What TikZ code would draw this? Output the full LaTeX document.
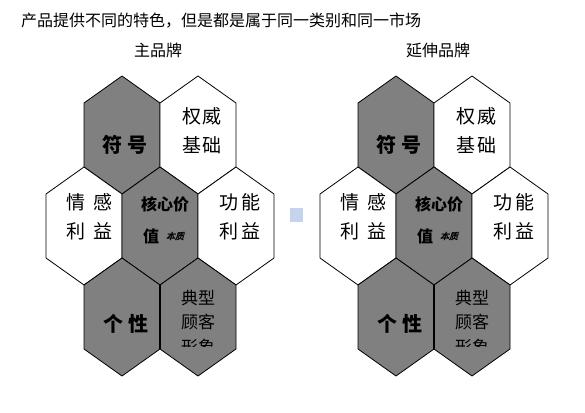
\documentclass[tikz,border=0pt]{standalone}
\usepackage{fontspec}
\setmainfont{Noto Sans CJK SC}
\newfontfamily\cjksl[FakeSlant=0.25,FakeBold=2]{Noto Sans CJK SC}
\usetikzlibrary{calc}
\definecolor{hexgray}{RGB}{128,128,128}
\definecolor{patchblue}{RGB}{196,212,238}
\tikzset{
  hexwhite/.style={draw=black, line width=0.8pt, fill=white, line join=miter},
  hexdark/.style={draw=black, line width=0.8pt, fill=hexgray, line join=miter},
  reglabel/.style={font=\fontsize{19}{29}\selectfont, inner sep=0pt, align=center},
  typlabel/.style={font=\fontsize{17}{24}\selectfont, inner sep=0pt, align=center},
  boldlabel/.style={font=\fontsize{20}{28}\selectfont\bfseries, inner sep=0pt},
  corelabel/.style={font=\fontsize{16}{20}\selectfont\bfseries, inner sep=0pt},
  smalllabel/.style={font=\fontsize{9}{10}\selectfont\cjksl, inner sep=0pt},
  titlelabel/.style={font=\fontsize{16}{18}\selectfont, inner sep=0pt},
  divider/.style={draw=black, line width=1.8pt}
}
\newcommand\hexshape[2]{%
  \draw[#2] ([shift={(0,-59)}]#1) -- ([shift={(38,-32)}]#1) -- ([shift={(38,32)}]#1)
    -- ([shift={(0,59)}]#1) -- ([shift={(-38,32)}]#1) -- ([shift={(-38,-32)}]#1) -- cycle;}
\newcommand\brandhex[2]{%
\begin{scope}[xshift=#2]
  \path (122,135) coordinate (#1sym) (198,135) coordinate (#1aut)
        (84,226) coordinate (#1emo) (160,226) coordinate (#1core) (236,226) coordinate (#1fun)
        (122,317) coordinate (#1per) (198,317) coordinate (#1typ);
  \hexshape{#1sym}{hexdark}
  \hexshape{#1aut}{hexwhite}
  \hexshape{#1emo}{hexwhite}
  \hexshape{#1core}{hexdark}
  \hexshape{#1fun}{hexwhite}
  \hexshape{#1per}{hexdark}
  \hexshape{#1typ}{hexdark}
  \draw[divider] ([shift={(38,-32)}]#1per) -- ([shift={(38,32)}]#1per);
  \node[boldlabel] (#1symt) at ([shift={(3,10)}]#1sym) {符\hspace{5pt}号};
  \node[reglabel] (#1autt) at ([shift={(4,-4)}]#1aut) {权\hspace{2pt}威\\基\hspace{2pt}础};
  \node[reglabel] (#1emot) at ([shift={(5,-9)}]#1emo) {情\hspace{8pt}感\\利\hspace{8pt}益};
  \node[reglabel] (#1funt) at ([shift={(4,-9)}]#1fun) {功\hspace{4pt}能\\利\hspace{4pt}益};
  \node[corelabel] (#1coret) at ([shift={(5,-22)}]#1core) {核心价};
  \node[corelabel] (#1corev) at ([shift={(-9,10)}]#1core) {值};
  \node[smalllabel] (#1cores) at ([shift={(15,10)}]#1core) {本质};
  \node[boldlabel] (#1pert) at ([shift={(4,7)}]#1per) {个\hspace{5pt}性};
  \node[typlabel] (#1typt) at ([shift={(0,-7)}]#1typ) {典型\\顾客};
  \begin{scope}
    \clip ([shift={(-30,21)}]#1typ) rectangle ([shift={(30,29)}]#1typ);
    \node[typlabel] (#1typx) at ([shift={(0,30)}]#1typ) {形象};
  \end{scope}
\end{scope}}
\begin{document}
\begin{tikzpicture}[x=1pt,y=-1pt]
  \useasboundingbox[fill=white] (0,0) rectangle (585,412);
  \node[titlelabel, anchor=west] (title) at (21,21) {产品提供不同的特色，但是都是属于同一类别和同一市场};
  \node[titlelabel] (mainbrand) at (158,50) {主品牌};
  \node[titlelabel] (extbrand) at (438,50) {延伸品牌};
  \brandhex{L}{0pt}
  \brandhex{R}{274pt}
  \fill[patchblue] (290,208) rectangle (303,222);
\end{tikzpicture}
\end{document}
